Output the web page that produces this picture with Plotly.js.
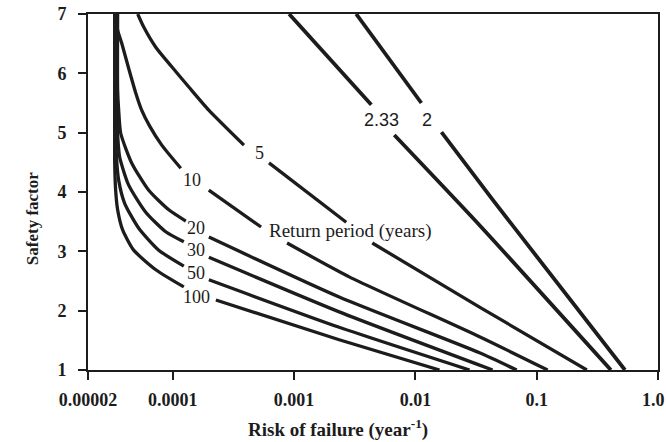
<!DOCTYPE html>
<html><head><meta charset="utf-8">
<script src="https://cdn.plot.ly/plotly-3.0.1.min.js"></script>
<style>html,body{margin:0;padding:0;background:#fff}#chart{width:667px;height:442px}</style>
</head><body><div id="chart"></div>
<script>
// Tick definitions (the last label is drawn as an annotation so it fits inside the page)
const riskTicks = [0.00002, 0.0001, 0.001, 0.01, 0.1, 1];
const riskTickText = ['0.00002', '0.0001', '0.001', '0.01', '0.1', ''];
const riskLastTickText = '1.0';
const safetyTicks = [1, 2, 3, 4, 5, 6, 7];

// Return period curves (risk of failure, safety factor); null = gap for a label
const rp2_x = [0.00325, 0.0112, null, 0.0164, 0.0433, 0.534];
const rp2_y = [7, 5.50, null, 5.01, 3.87, 1];

const rp233_x = [0.00091, 0.00433, null, 0.0067, 0.0338, 0.409];
const rp233_y = [7, 5.47, null, 4.96, 3.44, 1];

const rp5_x = [5.14e-5, 5.76e-5, 7.24e-5, 9.81e-5, 1.356e-4, 1.98e-4, 3.86e-4, null, 6.21e-4, 2.69e-3, null, 4.41e-3, 0.0338, 0.259];
const rp5_y = [7, 6.78, 6.44, 6.11, 5.77, 5.38, 4.79, null, 4.49, 3.49, null, 3.14, 2.06, 1];

const rp10_x = [3.38e-5, 3.51e-5, 3.79e-5, 4.32e-5, 4.95e-5, 5.54e-5, 6.45e-5, 8.11e-5, 1.164e-4, null, 1.98e-4, 5.34e-4, null, 8.75e-4, 2.85e-3, 0.0338, 0.123];
const rp10_y = [7, 6.73, 6.51, 6.09, 5.67, 5.38, 5.11, 4.79, 4.40, null, 4.03, 3.41, null, 3.14, 2.57, 1.56, 1];

const rp20_x = [3.51e-5, 3.51e-5, 3.58e-5, 3.72e-5, 4.58e-5, 6.33e-5, 9.27e-5, 1.281e-4, null, 1.984e-4, 2.354e-3, 0.0338, 0.0684];
const rp20_y = [7, 5.72, 5.38, 4.99, 4.49, 4.03, 3.70, 3.51, null, 3.24, 2.23, 1.29, 1];

const rp30_x = [3.445e-5, 3.445e-5, 3.51e-5, 3.647e-5, 4.32e-5, 5.98e-5, 8.75e-5, 1.233e-4, null, 1.984e-4, 2.354e-3, 0.0433];
const rp30_y = [7, 5.38, 4.96, 4.59, 4.12, 3.66, 3.33, 3.16, null, 2.90, 1.98, 1];

const rp50_x = [3.38e-5, 3.38e-5, 3.445e-5, 3.578e-5, 4.01e-5, 5.24e-5, 7.66e-5, 1.233e-4, null, 1.984e-4, 2.354e-3, 0.02795];
const rp50_y = [7, 5.06, 4.54, 4.20, 3.81, 3.39, 3.02, 2.75, null, 2.52, 1.72, 1];

const rp100_x = [3.317e-5, 3.317e-5, 3.38e-5, 3.51e-5, 3.86e-5, 4.76e-5, 7.24e-5, 1.233e-4, null, 2.266e-4, 2.354e-3, 0.0158];
const rp100_y = [7, 4.54, 4.03, 3.70, 3.36, 3.02, 2.69, 2.40, null, 2.18, 1.51, 1];

// Curve labels
const labelText = ['2', '2.33', '5', '10', '20', '30', '50', '100', 'Return period (years)'];
const labelX = [0.01257, 0.00524, 5.14e-4, 1.436e-4, 1.549e-4, 1.549e-4, 1.549e-4, 1.579e-4, 2.90e-3];
const labelY = [5.21, 5.21, 4.66, 4.20, 3.39, 3.02, 2.63, 2.23, 3.34];
const labelFont = ['Liberation Sans', 'Liberation Sans', 'Liberation Serif', 'Liberation Serif', 'Liberation Serif', 'Liberation Serif', 'Liberation Serif', 'Liberation Serif', 'Liberation Serif'];
const labelSize = [18, 18, 18, 18, 18, 18, 18, 18, 19];

const ink = '#1c1c1c';
const series = [
  [rp2_x, rp2_y, 3.8], [rp233_x, rp233_y, 3.8], [rp5_x, rp5_y, 3.3], [rp10_x, rp10_y, 3.3],
  [rp20_x, rp20_y, 3.3], [rp30_x, rp30_y, 3.3], [rp50_x, rp50_y, 3.3], [rp100_x, rp100_y, 3.3]
];
const traces = series.map(s => ({
  x: s[0], y: s[1], type: 'scatter', mode: 'lines', connectgaps: false,
  line: {color: ink, width: s[2], shape: 'spline', smoothing: 0.6},
  hoverinfo: 'skip', showlegend: false
}));

const tickFont = {family: 'Liberation Serif', size: 18, color: ink, weight: 'bold'};

const annotations = labelText.map((t, i) => ({
  x: Math.log10(labelX[i]), y: labelY[i], xref: 'x', yref: 'y', text: t, showarrow: false,
  xanchor: 'center', yanchor: 'middle',
  font: {family: labelFont[i], size: labelSize[i], color: ink}
}));
annotations.push({
  xref: 'paper', yref: 'paper', x: 1, y: -0.084, xanchor: 'right', yanchor: 'middle', xshift: 9,
  text: riskLastTickText, showarrow: false, font: tickFont
});
annotations.push({
  xref: 'paper', yref: 'paper', x: 0.4386, y: -0.163, xanchor: 'center', yanchor: 'middle',
  text: 'Risk of failure (year<sup>-1</sup>)', showarrow: false,
  font: {family: 'Liberation Serif', size: 19, color: ink, weight: 'bold'}
});
annotations.push({
  xref: 'paper', yref: 'paper', x: -0.098, y: 0.424, xanchor: 'center', yanchor: 'middle',
  text: 'Safety factor', textangle: -90, showarrow: false,
  font: {family: 'Liberation Serif', size: 17, color: ink, weight: 'bold'}
});

const layout = {
  width: 667, height: 442,
  margin: {l: 88, r: 9, t: 14, b: 72},
  paper_bgcolor: '#fff', plot_bgcolor: '#fff',
  showlegend: false,
  xaxis: {
    type: 'log', range: [Math.log10(0.00002), 0],
    tickvals: riskTicks, ticktext: riskTickText,
    ticks: 'outside', ticklen: 8, tickwidth: 2, tickcolor: ink,
    showline: true, linewidth: 2, linecolor: ink, mirror: true,
    showgrid: false, zeroline: false, ticklabelstandoff: 4,
    ticklabeloverflow: 'allow',
    tickfont: tickFont
  },
  yaxis: {
    range: [1, 7], tickvals: safetyTicks,
    ticks: 'outside', ticklen: 8, tickwidth: 2, tickcolor: ink,
    showline: true, linewidth: 2, linecolor: ink, mirror: true,
    showgrid: false, zeroline: false, ticklabelstandoff: 8,
    ticklabeloverflow: 'allow',
    tickfont: tickFont
  },
  annotations: annotations
};

Plotly.newPlot('chart', traces, layout, {displayModeBar: false, staticPlot: true});
</script></body></html>
